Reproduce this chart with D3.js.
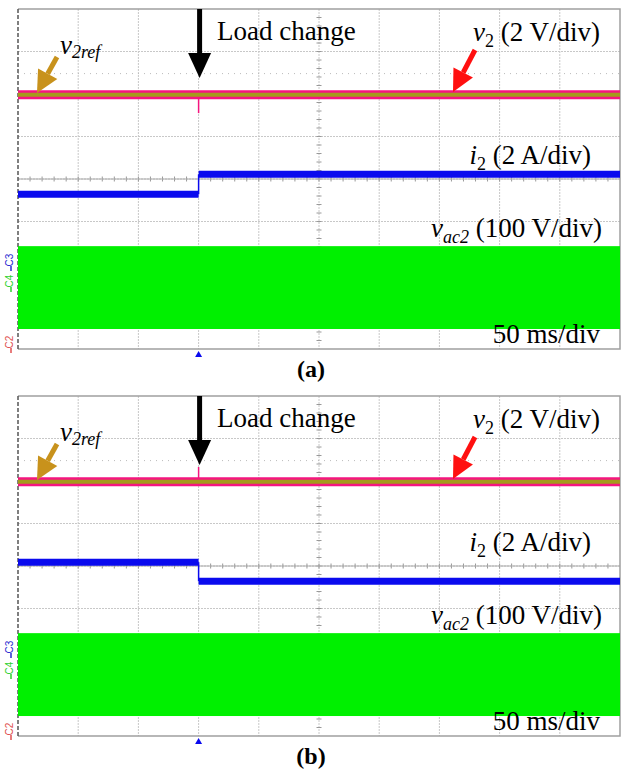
<script src="https://d3js.org/d3.v7.min.js"></script>
<html>
<body style="margin:0;background:#fff">
<script>
// scope screenshots: two load-change tests, (a) and (b)
// time in ms (50 ms/div, 10 div), traces in divisions from screen centre

var panels = ["(a)", "(b)"];
var timeSpan = [0, 500];
var divRange = [-4, 4];
var loadStepMs = 150;

var v2Level = [1.98, 1.98];        // v2 and v2ref trace (div)
var v2Spike = [1.55, 2.33];        // glitch at the load step
var i2Before = [-0.36, 0.09];      // i2 before step (div)
var i2After = [0.11, -0.36];       // i2 after step (div)
var vacTop = [-1.58, -1.58];       // vac2 envelope (div)
var vacBottom = [-3.53, -3.53];
var cursorLevel = 2.48;            // dotted cursor line

var W = 621, H = 772;
var panelTop = [0, 387];
var serif = "'Liberation Serif', 'Times New Roman', serif";
var fs = 27;

var svg = d3.select("body").append("svg")
  .attr("width", W)
  .attr("height", H);

var x = d3.scaleLinear().domain(timeSpan).range([18, 620]);
var y = d3.scaleLinear().domain(divRange).range([349, 9]);

function arrow(g, x1, y1, x2, y2, color, shaft, headLen, headW) {
  var ang = Math.atan2(y2 - y1, x2 - x1);
  var bx = x2 - headLen * Math.cos(ang), by = y2 - headLen * Math.sin(ang);
  var px = -Math.sin(ang) * headW / 2, py = Math.cos(ang) * headW / 2;
  g.append("line")
    .attr("x1", x1).attr("y1", y1).attr("x2", bx).attr("y2", by)
    .attr("stroke", color).attr("stroke-width", shaft);
  g.append("path")
    .attr("d", "M" + x2 + "," + y2 + "L" + (bx + px) + "," + (by + py) + "L" + (bx - px) + "," + (by - py) + "Z")
    .attr("fill", color);
}

panels.forEach(function(name, p) {
  var g = svg.append("g").attr("transform", "translate(0," + panelTop[p] + ")");

  // grid
  g.selectAll(".vg").data(d3.range(50, 500, 50)).enter().append("line")
    .attr("x1", d => x(d)).attr("x2", d => x(d))
    .attr("y1", y(4)).attr("y2", y(-4))
    .attr("stroke", "#c8c8c8").attr("stroke-dasharray", "2,1");
  g.selectAll(".hg").data(d3.range(-3, 4)).enter().append("line")
    .attr("x1", x(0)).attr("x2", x(500))
    .attr("y1", d => y(d)).attr("y2", d => y(d))
    .attr("stroke", "#c8c8c8").attr("stroke-dasharray", "2,1");

  // centre axis minor ticks
  g.selectAll(".ht").data(d3.range(10, 500, 10)).enter().append("line")
    .attr("x1", d => x(d)).attr("x2", d => x(d))
    .attr("y1", y(0) - 2.5).attr("y2", y(0) + 2.5)
    .attr("stroke", "#999");
  g.selectAll(".vt").data(d3.range(-3.8, 4, 0.2)).enter().append("line")
    .attr("x1", x(250) - 2.5).attr("x2", x(250) + 2.5)
    .attr("y1", d => y(d)).attr("y2", d => y(d))
    .attr("stroke", "#999");
  g.append("line")
    .attr("x1", x(0)).attr("x2", x(500)).attr("y1", y(0)).attr("y2", y(0))
    .attr("stroke", "#aaa");

  // cursor dotted line
  g.append("line")
    .attr("x1", x(0)).attr("x2", x(500))
    .attr("y1", y(cursorLevel)).attr("y2", y(cursorLevel))
    .attr("stroke", "#bbb").attr("stroke-dasharray", "1,5");

  // frame
  g.append("path")
    .attr("d", "M" + x(0) + "," + y(4) + "H" + x(500) + "V" + y(-4) + "H" + x(0))
    .attr("fill", "none").attr("stroke", "#a0a0a0").attr("stroke-width", 1.5);
  g.append("line")
    .attr("x1", x(0)).attr("x2", x(0)).attr("y1", y(4)).attr("y2", y(-4))
    .attr("stroke", "#555").attr("stroke-width", 1.5).attr("stroke-dasharray", "4,2");

  // vac2 envelope
  g.append("rect")
    .attr("x", x(0)).attr("width", x(500) - x(0))
    .attr("y", y(vacTop[p])).attr("height", y(vacBottom[p]) - y(vacTop[p]))
    .attr("fill", "#00f000");

  // i2 step
  var blue = "#0a0aee";
  g.append("line")
    .attr("x1", x(0)).attr("x2", x(loadStepMs))
    .attr("y1", y(i2Before[p])).attr("y2", y(i2Before[p]))
    .attr("stroke", blue).attr("stroke-width", 7);
  g.append("line")
    .attr("x1", x(loadStepMs)).attr("x2", x(500))
    .attr("y1", y(i2After[p])).attr("y2", y(i2After[p]))
    .attr("stroke", blue).attr("stroke-width", 7);
  g.append("line")
    .attr("x1", x(loadStepMs)).attr("x2", x(loadStepMs))
    .attr("y1", y(i2Before[p])).attr("y2", y(i2After[p]))
    .attr("stroke", blue).attr("stroke-width", 1.5);

  // v2 band, spike and v2ref
  var line = d3.line().x(d => x(d[0])).y(d => y(d[1]));
  g.append("path")
    .attr("d", line([[0, v2Level[p]], [500, v2Level[p]]]))
    .attr("stroke", "#f5157f").attr("stroke-width", 9).attr("fill", "none");
  g.append("path")
    .attr("d", line([[loadStepMs, v2Level[p]], [loadStepMs, v2Spike[p]]]))
    .attr("stroke", "#f5157f").attr("stroke-width", 1.5).attr("fill", "none");
  g.append("path")
    .attr("d", line([[0, v2Level[p]], [500, v2Level[p]]]))
    .attr("stroke", "#a59a1c").attr("stroke-width", 4).attr("fill", "none");

  // channel markers on the left
  var marks = [["C3", "#2a2ad0", 260], ["C4", "#30d030", 281], ["C2", "#e05050", 342]];
  marks.forEach(function(m) {
    g.append("text")
      .attr("transform", "translate(13," + m[2] + ") rotate(-90)")
      .attr("text-anchor", "middle")
      .attr("font-family", "'Liberation Sans', Arial, sans-serif")
      .attr("font-size", 10).attr("fill", m[1])
      .text(m[0]);
    g.append("line")
      .attr("x1", 11).attr("x2", 11).attr("y1", m[2] + 6).attr("y2", m[2] + 11)
      .attr("stroke", m[1]).attr("stroke-width", 1.5);
  });

  // trigger marker
  g.append("path")
    .attr("d", "M" + x(loadStepMs) + ",351l3.5,6h-7z")
    .attr("fill", blue);

  // annotations
  arrow(g, x(loadStepMs) + 1, 9, x(loadStepMs) + 1, 78, "#000", 5, 25, 23);
  arrow(g, 475, 50, 453, 92, "#ff1010", 5, 22, 22);
  arrow(g, 57, 57, 37, 93, "#c8921c", 5, 22, 22);

  g.append("text")
    .attr("x", 217).attr("y", 40)
    .attr("font-family", serif).attr("font-size", fs)
    .text("Load change");

  var t = g.append("text").attr("x", 600).attr("y", 41).attr("text-anchor", "end")
    .attr("font-family", serif).attr("font-size", fs);
  t.append("tspan").attr("font-style", "italic").text("v");
  t.append("tspan").attr("font-size", 18).attr("dy", 6).text("2");
  t.append("tspan").attr("dy", -6).text(" (2 V/div)");

  t = g.append("text").attr("x", 60).attr("y", 54)
    .attr("font-family", serif).attr("font-size", fs).attr("font-style", "italic");
  t.append("tspan").text("v");
  t.append("tspan").attr("font-size", 18).attr("dy", 4).text("2ref");

  t = g.append("text").attr("x", 591).attr("y", 164).attr("text-anchor", "end")
    .attr("font-family", serif).attr("font-size", fs);
  t.append("tspan").attr("font-style", "italic").text("i");
  t.append("tspan").attr("font-size", 18).attr("dy", 6).text("2");
  t.append("tspan").attr("dy", -6).text(" (2 A/div)");

  t = g.append("text").attr("x", 602).attr("y", 237).attr("text-anchor", "end")
    .attr("font-family", serif).attr("font-size", fs);
  t.append("tspan").attr("font-style", "italic").text("v");
  t.append("tspan").attr("font-style", "italic").attr("font-size", 18).attr("dy", 6).text("ac2");
  t.append("tspan").attr("dy", -6).text(" (100 V/div)");

  g.append("text")
    .attr("x", 600).attr("y", 343).attr("text-anchor", "end")
    .attr("font-family", serif).attr("font-size", fs)
    .text("50 ms/div");

  g.append("text")
    .attr("x", 311).attr("y", 377).attr("text-anchor", "middle")
    .attr("font-family", serif).attr("font-size", 24).attr("font-weight", "bold")
    .text(name);
});
</script>
</body>
</html>
